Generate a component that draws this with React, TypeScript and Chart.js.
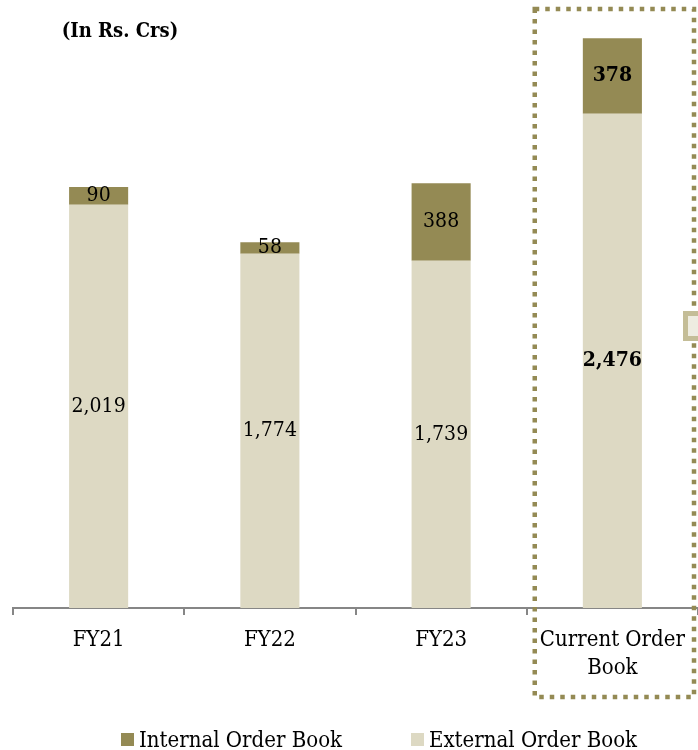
import { useEffect, useRef } from "react";
import { Chart, registerables } from "chart.js";

Chart.register(...registerables);

const categories: (string | string[])[] = ["FY21", "FY22", "FY23", ["Current Order", "Book"]];
const externalOrderBook = [2019, 1774, 1739, 2476];
const internalOrderBook = [90, 58, 388, 378];
const seriesNames = ["Internal Order Book", "External Order Book"];
const unitLabel = "(In Rs. Crs)";
const highlightIndex = 3;

const FONT = '"DejaVu Serif Condensed", "DejaVu Serif", serif';
const INTERNAL_COLOR = "#948a54";
const EXTERNAL_COLOR = "#ddd9c3";
const AXIS_COLOR = "#868686";

const overlayPlugin = {
  id: "overlay",
  afterDatasetsDraw(chart: any) {
    const ctx = chart.ctx;
    ctx.save();
    ctx.textAlign = "center";
    ctx.textBaseline = "middle";
    ctx.fillStyle = "#000";
    chart.data.datasets.forEach((ds: any, di: number) => {
      const meta = chart.getDatasetMeta(di);
      meta.data.forEach((bar: any, i: number) => {
        const v = ds.data[i];
        const bold = i === highlightIndex;
        ctx.font = `${bold ? "bold " : ""}21px ${FONT}`;
        const cy = (bar.y + bar.base) / 2;
        ctx.fillText(v.toLocaleString("en-US"), bar.x, cy);
      });
    });
    ctx.restore();
  },
  afterDraw(chart: any) {
    const ctx = chart.ctx;
    const area = chart.chartArea;
    const xs = chart.scales.x;
    ctx.save();

    // unit title
    ctx.font = `bold 20px ${FONT}`;
    ctx.fillStyle = "#000";
    ctx.textAlign = "center";
    ctx.textBaseline = "middle";
    ctx.fillText(unitLabel, 120, 32);

    // dotted highlight box around last category
    const catW = (area.right - area.left) / categories.length;
    const cx = xs.getPixelForValue(highlightIndex);
    const bx0 = cx - catW / 2 + 8;
    const bx1 = area.right - 4;
    const by0 = area.top;
    const by1 = 697;
    ctx.strokeStyle = INTERNAL_COLOR;
    ctx.lineWidth = 4.5;
    ctx.setLineDash([4.5, 6]);
    ctx.lineCap = "butt";
    ctx.strokeRect(bx0, by0, bx1 - bx0, by1 - by0);
    ctx.setLineDash([]);

    // small cut-off marker at right edge
    ctx.fillStyle = "#eeece1";
    ctx.fillRect(686, 314, 20, 24);
    ctx.strokeStyle = "#c4bd97";
    ctx.lineWidth = 5;
    ctx.strokeRect(685.5, 313.5, 20, 25);

    // legend
    const items = [
      { name: seriesNames[0], color: INTERNAL_COLOR, x: 121 },
      { name: seriesNames[1], color: EXTERNAL_COLOR, x: 411 },
    ];
    ctx.font = `22px ${FONT}`;
    ctx.textAlign = "left";
    ctx.textBaseline = "alphabetic";
    items.forEach((it) => {
      ctx.fillStyle = it.color;
      ctx.fillRect(it.x, 733, 13, 13);
      ctx.fillStyle = "#000";
      ctx.fillText(it.name, it.x + 18, 747);
    });
    ctx.restore();
  },
};

export default function App() {
  const ref = useRef<HTMLCanvasElement | null>(null);
  useEffect(() => {
    if (!ref.current) return;
    const chart = new Chart(ref.current, {
      type: "bar",
      data: {
        labels: categories,
        datasets: [
          {
            label: seriesNames[1],
            data: externalOrderBook,
            backgroundColor: EXTERNAL_COLOR,
            barPercentage: 0.345,
            categoryPercentage: 1,
          },
          {
            label: seriesNames[0],
            data: internalOrderBook,
            backgroundColor: INTERNAL_COLOR,
            barPercentage: 0.345,
            categoryPercentage: 1,
          },
        ],
      },
      options: {
        animation: false,
        responsive: false,
        layout: { padding: { top: 9, left: 13, right: 0, bottom: 0 } },
        plugins: { legend: { display: false }, tooltip: { enabled: false } },
        scales: {
          x: {
            stacked: true,
            grid: {
              display: true,
              drawOnChartArea: false,
              drawTicks: true,
              tickLength: 7,
              color: AXIS_COLOR,
              lineWidth: 2,
            },
            border: { display: true, color: AXIS_COLOR, width: 2 },
            ticks: {
              color: "#000",
              padding: 11,
              font: { family: FONT, size: 22, lineHeight: 1.27 },
              maxRotation: 0,
              autoSkip: false,
            },
            afterFit: (scale: any) => {
              scale.height = 142;
            },
          },
          y: { stacked: true, display: false, min: 0, max: 3000 },
        },
      },
      plugins: [overlayPlugin],
    });
    return () => chart.destroy();
  }, []);
  return (
    <div style={{ position: "absolute", left: 0, top: 0, width: 698, height: 750 }}>
      <canvas ref={ref} width={698} height={750} style={{ display: "block" }} />
    </div>
  );
}
